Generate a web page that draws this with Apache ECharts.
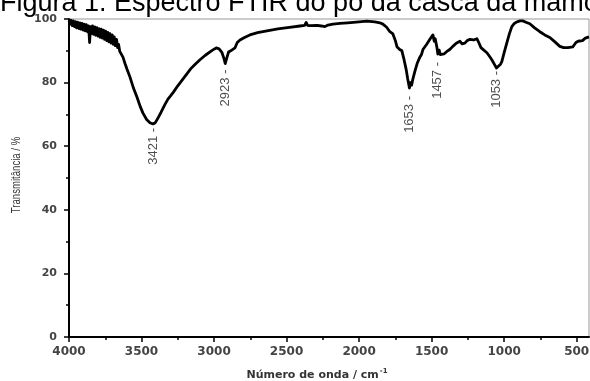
<!DOCTYPE html>
<html>
<head>
<meta charset="utf-8">
<title>Espectro FTIR</title>
<script src="https://cdn.jsdelivr.net/npm/echarts@6.0.0/dist/echarts.min.js"></script>
<style>
  html, body { margin: 0; padding: 0; background: #fff; }
  #chart { width: 590px; height: 381px; }
</style>
</head>
<body>
<div id="chart"></div>
<script>
// espectro (cm-1 / %T)
const wavenumber = [
  4000, 3992, 3985, 3978, 3970, 3962, 3955, 3948, 3940, 3932, 3925, 3918, 3910, 3902, 3895, 3888,
  3880, 3872, 3865, 3858, 3852, 3845, 3838, 3830, 3822, 3815, 3808, 3800, 3792, 3785, 3778, 3770,
  3762, 3755, 3748, 3740, 3732, 3725, 3718, 3710, 3702, 3695, 3688, 3680, 3672, 3665, 3658, 3650,
  3640, 3628, 3614, 3600, 3580, 3555, 3531, 3510, 3490, 3465, 3442, 3421, 3405, 3385, 3366, 3340,
  3318, 3300, 3280, 3250, 3220, 3190, 3160, 3130, 3097, 3060, 3030, 3008, 2985, 2965, 2945, 2932,
  2923, 2912, 2900, 2885, 2872, 2856, 2840, 2821, 2790, 2753, 2700, 2635, 2560, 2480, 2408, 2375,
  2365, 2355, 2339, 2290, 2260, 2236, 2215, 2180, 2132, 2080, 2020, 1946, 1891, 1857, 1836, 1810,
  1788, 1767, 1750, 1739, 1720, 1705, 1690, 1675, 1665, 1653, 1645, 1638, 1629, 1615, 1600, 1590,
  1581, 1570, 1560, 1548, 1535, 1524, 1512, 1500, 1491, 1482, 1475, 1464, 1457, 1448, 1440, 1429,
  1415, 1395, 1375, 1354, 1330, 1305, 1290, 1271, 1255, 1236, 1210, 1188, 1175, 1160, 1140, 1119,
  1100, 1085, 1068, 1053, 1040, 1025, 1016, 1000, 981, 965, 947, 930, 912, 890, 871, 850,
  823, 790, 754, 720, 685, 650, 616, 590, 560, 527, 505, 490, 478, 460, 440, 415
]
const transmittance = [
  99.5, 98.4, 99.6, 97.9, 99.4, 97.6, 99.2, 97.2, 99.0, 97.0, 98.8, 96.8, 98.6, 96.5, 98.4, 96.3,
  98.2, 96.0, 97.8, 92.6, 97.6, 95.4, 97.8, 95.2, 97.5, 94.9, 97.3, 94.6, 97.0, 94.2, 96.8, 94.0,
  96.5, 93.6, 96.2, 93.2, 95.8, 92.8, 95.4, 92.4, 95.0, 92.0, 94.4, 91.6, 93.6, 91.0, 92.0, 89.8,
  89.6, 88.0, 86.0, 84.2, 81.8, 78.2, 75.4, 72.6, 70.4, 68.4, 67.4, 67.0, 67.4, 69.0, 70.6, 73.0,
  74.8, 75.8, 77.0, 79.0, 80.8, 82.6, 84.4, 85.8, 87.2, 88.6, 89.6, 90.3, 90.9, 90.6, 89.4, 87.6,
  86.0, 87.8, 89.6, 90.0, 89.4, 90.9, 92.6, 93.4, 94.2, 95.0, 95.7, 96.3, 96.9, 97.4, 97.8, 98.0,
  98.9, 98.0, 97.9, 98.0, 97.8, 97.6, 98.1, 98.4, 98.6, 98.8, 99.0, 99.3, 99.1, 98.8, 98.4, 97.4,
  96.0, 95.3, 93.2, 91.3, 90.4, 90.0, 87.2, 84.0, 81.2, 78.3, 80.0, 79.2, 81.2, 83.6, 86.0, 85.4,
  88.0, 88.8, 90.4, 90.0, 92.0, 91.6, 93.6, 93.2, 95.0, 93.0, 93.8, 91.2, 89.0, 90.2, 88.8, 89.4,
  89.0, 89.8, 90.4, 91.4, 92.4, 93.0, 92.2, 92.4, 93.2, 93.6, 93.4, 93.8, 92.6, 91.0, 90.2, 89.4,
  88.2, 87.2, 85.8, 84.6, 85.0, 85.8, 86.6, 89.4, 92.6, 95.2, 97.6, 98.6, 99.1, 99.4, 99.4, 99.0,
  98.5, 97.2, 96.0, 95.0, 94.2, 92.8, 91.4, 91.0, 91.0, 91.2, 92.6, 93.0, 93.6, 93.2, 94.0, 94.4
]

// bandas marcadas
const peakWavenumber = [3421, 2923, 1653, 1457, 1053]
const peakTransmittance = [67.0, 86.0, 78.3, 89.0, 84.6]

const xTicks = [4000, 3500, 3000, 2500, 2000, 1500, 1000, 500]
const xMinorTicks = [3750, 3250, 2750, 2250, 1750, 1250, 750]
const yTicks = [0, 20, 40, 60, 80, 100]

const spectrum = wavenumber.map((w, i) => [w, transmittance[i]])
const labelGap = [4, 6, 8, 8, 3]
const peaks = peakWavenumber.map((w, i) => ({
  value: [w, peakTransmittance[i]],
  label: { position: [0, labelGap[i]] }
}))

const gridBox = { left: 69, right: 1, top: 19, bottom: 44, containLabel: false, outerBoundsMode: 'none' }

const chart = echarts.init(document.getElementById('chart'))
const option = {
  animation: false,
  backgroundColor: '#fff',
  graphic: [
    {
      type: 'text',
      left: 0,
      top: -10,
      style: {
        text: 'Figura 1. Espectro FTIR do pó da casca da mamona',
        font: '27px "Liberation Sans", Arial, sans-serif',
        fill: '#000'
      }
    },
    {
      type: 'text',
      x: 17,
      y: 175,
      rotation: Math.PI / 2,
      scaleX: 0.8,
      style: {
        text: 'Transmitância / %',
        align: 'center',
        verticalAlign: 'middle',
        font: '12px "Liberation Sans", Arial, sans-serif',
        fill: '#333'
      }
    },
    {
      type: 'text',
      x: 317,
      y: 375,
      style: {
        text: 'Número de onda / cm{sup|-1}',
        align: 'center',
        verticalAlign: 'middle',
        font: 'bold 11px "DejaVu Sans", sans-serif',
        fill: '#333',
        rich: {
          sup: { fontSize: 7, fontWeight: 'bold', fontFamily: 'DejaVu Sans', fill: '#333', verticalAlign: 'top', padding: [0, 0, 8, 1] }
        }
      }
    }
  ],
  grid: [
    Object.assign({ show: true, borderColor: '#999', borderWidth: 1 }, gridBox),
    Object.assign({}, gridBox)
  ],
  xAxis: [
    {
      type: 'value',
      gridIndex: 0,
      inverse: true,
      min: 415,
      max: 4000,
      axisLine: { show: true, onZero: false, lineStyle: { color: '#000', width: 2 } },
      axisTick: { show: true, customValues: xTicks, length: 5, lineStyle: { color: '#000', width: 1.5 } },
      axisLabel: {
        customValues: xTicks,
        formatter: (v) => String(v),
        margin: 9,
        color: '#444',
        fontFamily: 'DejaVu Sans',
        fontWeight: 'bold',
        fontSize: 12
      },
      splitLine: { show: false }
    },
    {
      type: 'value',
      gridIndex: 1,
      inverse: true,
      min: 415,
      max: 4000,
      axisLine: { show: false, onZero: false },
      axisTick: { show: true, customValues: xMinorTicks, length: 3, lineStyle: { color: '#000', width: 1.5 } },
      axisLabel: { show: false },
      splitLine: { show: false }
    }
  ],
  yAxis: [
    {
      type: 'value',
      gridIndex: 0,
      min: 0,
      max: 100,
      interval: 20,
      axisLine: { show: true, onZero: false, lineStyle: { color: '#000', width: 2 } },
      axisTick: { show: true, length: 5, lineStyle: { color: '#000', width: 1.5 } },
      minorTick: { show: true, splitNumber: 2, length: 3, lineStyle: { color: '#000', width: 1.5 } },
      axisLabel: {
        customValues: yTicks,
        margin: 12,
        color: '#444',
        fontFamily: 'DejaVu Sans',
        fontWeight: 'bold',
        fontSize: 11
      },
      splitLine: { show: false }
    },
    {
      type: 'value',
      gridIndex: 1,
      show: false,
      min: 0,
      max: 100
    }
  ],
  series: [
    {
      name: 'FTIR',
      type: 'line',
      xAxisIndex: 0,
      yAxisIndex: 0,
      data: spectrum,
      showSymbol: false,
      symbol: 'none',
      lineStyle: { color: '#000', width: 2.8, join: 'round' },
      silent: true
    },
    {
      name: 'bandas',
      type: 'scatter',
      xAxisIndex: 0,
      yAxisIndex: 0,
      data: peaks,
      symbolSize: 0,
      label: {
        show: true,
        formatter: (p) => p.value[0] + ' -',
        rotate: 90,
        align: 'right',
        verticalAlign: 'middle',
        color: '#222',
        fontFamily: '"Liberation Sans", Arial, sans-serif',
        fontSize: 13
      },
      silent: true
    }
  ]
}
chart.setOption(option)
</script>
</body>
</html>
